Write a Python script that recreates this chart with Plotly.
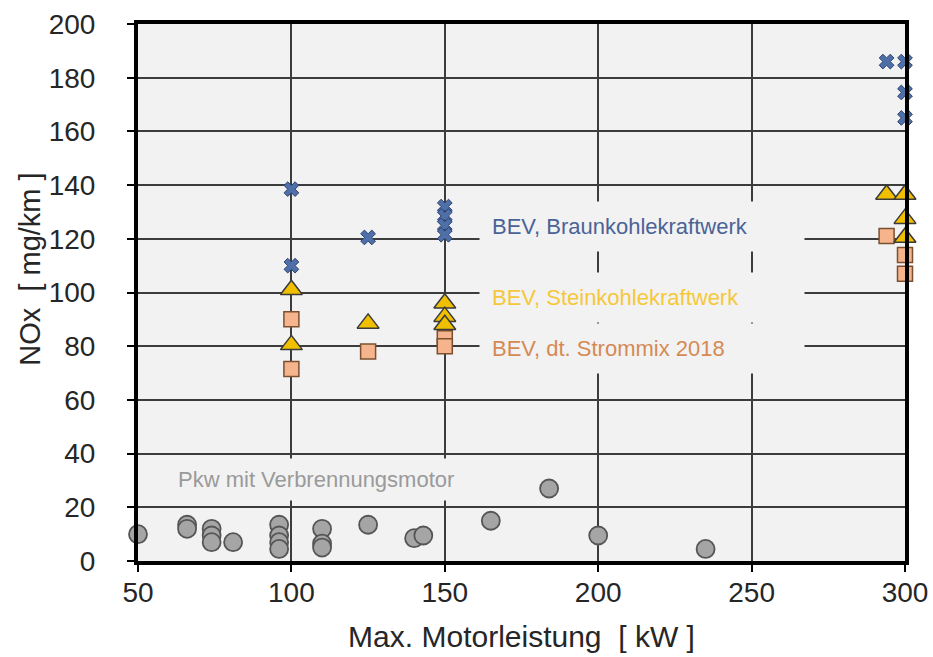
import plotly.graph_objects as go

# --- data ---
pkw_x = [50, 66, 66, 74, 74, 74, 81, 96, 96, 96, 96, 110, 110, 110, 125, 140, 143, 165, 184, 200, 235]
pkw_y = [10, 13.5, 12, 12, 9.5, 7, 7, 13.5, 9.5, 7, 4.5, 12, 6.5, 5, 13.5, 8.5, 9.5, 15, 27, 9.5, 4.5]

braun_x = [100, 100, 125, 150, 150, 150, 150, 294, 300, 300, 300]
braun_y = [138.5, 110, 120.5, 132, 128.5, 125, 121.5, 186, 186, 174.5, 165]

stein_x = [100, 100, 125, 150, 150, 150, 294, 300, 300, 300]
stein_y = [101, 80.5, 88.5, 96, 91, 88, 136.5, 136.5, 127.5, 120.5]

mix_x = [100, 100, 125, 150, 150, 294, 300, 300]
mix_y = [90, 71.5, 78, 83, 80, 121, 114, 107]

x_ticks = [50, 100, 150, 200, 250, 300]
y_ticks = [0, 20, 40, 60, 80, 100, 120, 140, 160, 180, 200]

labels = ["BEV, Braunkohlekraftwerk", "BEV, Steinkohlekraftwerk", "BEV, dt. Strommix 2018",
          "Pkw mit Verbrennungsmotor"]
label_x = [161, 161, 161, 60]
label_y = [124.4, 98.3, 79.0, 30.5]
label_colors = ["#4a6396", "#f5c83a", "#d58a55", "#9a9a9a"]
label_widths = [300, 300, 300, 285]
label_pads = [12, 12, 12, 8]

FONT = "Liberation Sans, Arial, sans-serif"

fig = go.Figure()
fig.add_trace(go.Scatter(x=pkw_x, y=pkw_y, mode="markers", cliponaxis=False,
                         marker=dict(symbol="circle", size=18, color="#a5a5a5",
                                     line=dict(color="#555555", width=1.8))))
fig.add_trace(go.Scatter(x=mix_x, y=mix_y, mode="markers", cliponaxis=False,
                         marker=dict(symbol="square", size=15, color="#f6b48c",
                                     line=dict(color="#7a5030", width=1.5))))
fig.add_trace(go.Scatter(x=stein_x, y=stein_y, mode="markers", cliponaxis=False,
                         marker=dict(symbol="triangle-up", size=19, color="#f0c000",
                                     line=dict(color="#3a3a3a", width=1.5))))
fig.add_trace(go.Scatter(x=braun_x, y=braun_y, mode="markers", cliponaxis=False,
                         marker=dict(symbol="x", size=13, color="#4f6fa8",
                                     line=dict(color="#2c4270", width=1))))

for t, xx, yy, c, w, p in zip(labels, label_x, label_y, label_colors, label_widths, label_pads):
    fig.add_annotation(x=xx, y=yy, xref="x", yref="y", text=t, showarrow=False,
                       xanchor="left", yanchor="middle", align="left", width=w,
                       bgcolor="#f2f2f2", borderpad=p,
                       font=dict(family=FONT, size=22, color=c))

fig.add_annotation(x=-0.141, y=0.544, xref="paper", yref="paper", text="NOx  [ mg/km ]",
                   textangle=-90, showarrow=False, xanchor="center", yanchor="middle",
                   font=dict(family=FONT, size=29, color="#262626"))

axis_common = dict(showline=True, linecolor="black", linewidth=4, mirror=True,
                   showgrid=True, gridcolor="#3c3c3c", gridwidth=1.5,
                   ticks="outside", tickcolor="black", tickwidth=2, ticklen=7,
                   zeroline=False, automargin=False,
                   tickfont=dict(family=FONT, size=28, color="#262626"))

fig.update_xaxes(range=[50, 300], tickvals=x_ticks, ticktext=[str(v) for v in x_ticks],
                 title=dict(text="Max. Motorleistung  [ kW ]", standoff=20,
                            font=dict(family=FONT, size=30, color="#262626")),
                 ticklabelstandoff=-4, **axis_common)
fig.update_yaxes(range=[0, 200], tickvals=y_ticks, ticktext=[str(v) for v in y_ticks],
                 ticklabelstandoff=26, **axis_common)

fig.update_layout(width=933, height=657, margin=dict(l=138, r=28, t=24, b=96),
                  plot_bgcolor="#f2f2f2", paper_bgcolor="white", showlegend=False,
                  font=dict(family=FONT))

fig.write_html("out.html", config={"displayModeBar": False},
               post_script="document.body.style.margin='0px';document.body.style.overflow='hidden';")
